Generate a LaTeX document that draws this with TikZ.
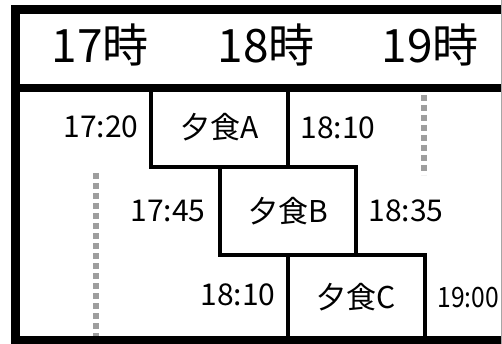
\documentclass[tikz,border=0pt]{standalone}
\usepackage{fontspec}
\setmainfont{Noto Sans CJK JP}
\begin{document}
\begin{tikzpicture}[x=1pt,y=-1pt,
  frame/.style={line width=9pt,line join=miter},
  sep/.style={line width=8pt},
  meal/.style={draw,line width=4.5pt,inner sep=0pt,font=\fontsize{30}{30}\selectfont},
  hour/.style={inner sep=0pt,font=\fontsize{46}{46}\selectfont},
  tlabel/.style={inner sep=0pt,font=\fontsize{30}{30}\selectfont},
  guide/.style={draw=black!38,line width=5.5pt,dash pattern=on 6pt off 4pt}]
\useasboundingbox (0,0) rectangle (502,344);
\fill[white] (0,0) rectangle (502,344);
% guides
\coordinate (g1t) at (96,173);
\coordinate (g1b) at (96,338);
\coordinate (g2t) at (424,95);
\coordinate (g2b) at (424,175);
\draw[guide] (g1t) -- (g1b);
\draw[guide] (g2t) -- (g2b);
% meal boxes
\node[meal,minimum width=137pt,minimum height=80pt] (boxA) at (219.5,127) {夕食A};
\node[meal,minimum width=136pt,minimum height=88pt] (boxB) at (288,211) {夕食B};
\node[meal,minimum width=137pt,minimum height=85pt] (boxC) at (356.5,297.5) {夕食C};
% frame
\coordinate (ftr) at (502,9.5);
\coordinate (ftl) at (15,9.5);
\coordinate (fbl) at (15,340);
\coordinate (fbr) at (502,340);
\coordinate (sl) at (15,88);
\coordinate (sr) at (502,88);
\draw[frame] (ftr) -- (ftl) -- (fbl) -- (fbr);
\draw[sep] (sl) -- (sr);
\draw[black!35,line width=1pt] (501.5,0) -- (501.5,344);
% header
\node[hour] (h17) at (100,45) {17時};
\node[hour] (h18) at (266,45) {18時};
\node[hour] (h19) at (430,45) {19時};
% time labels
\node[tlabel,anchor=east] (t1720) at ([xshift=-10pt]boxA.west) {17:20};
\node[tlabel,anchor=west] (t1810a) at ([xshift=10pt,yshift=-1pt]boxA.east) {18:10};
\node[tlabel,anchor=east] (t1745) at ([xshift=-12pt]boxB.west) {17:45};
\node[tlabel,anchor=west] (t1835) at ([xshift=10pt]boxB.east) {18:35};
\node[tlabel,anchor=east] (t1810b) at ([xshift=-10pt,yshift=3pt]boxC.west) {18:10};
\node[tlabel,anchor=west,xscale=0.88,font=\fontsize{28}{28}\selectfont] (t1900) at ([xshift=10pt]boxC.east) {19:00};
\end{tikzpicture}
\end{document}
